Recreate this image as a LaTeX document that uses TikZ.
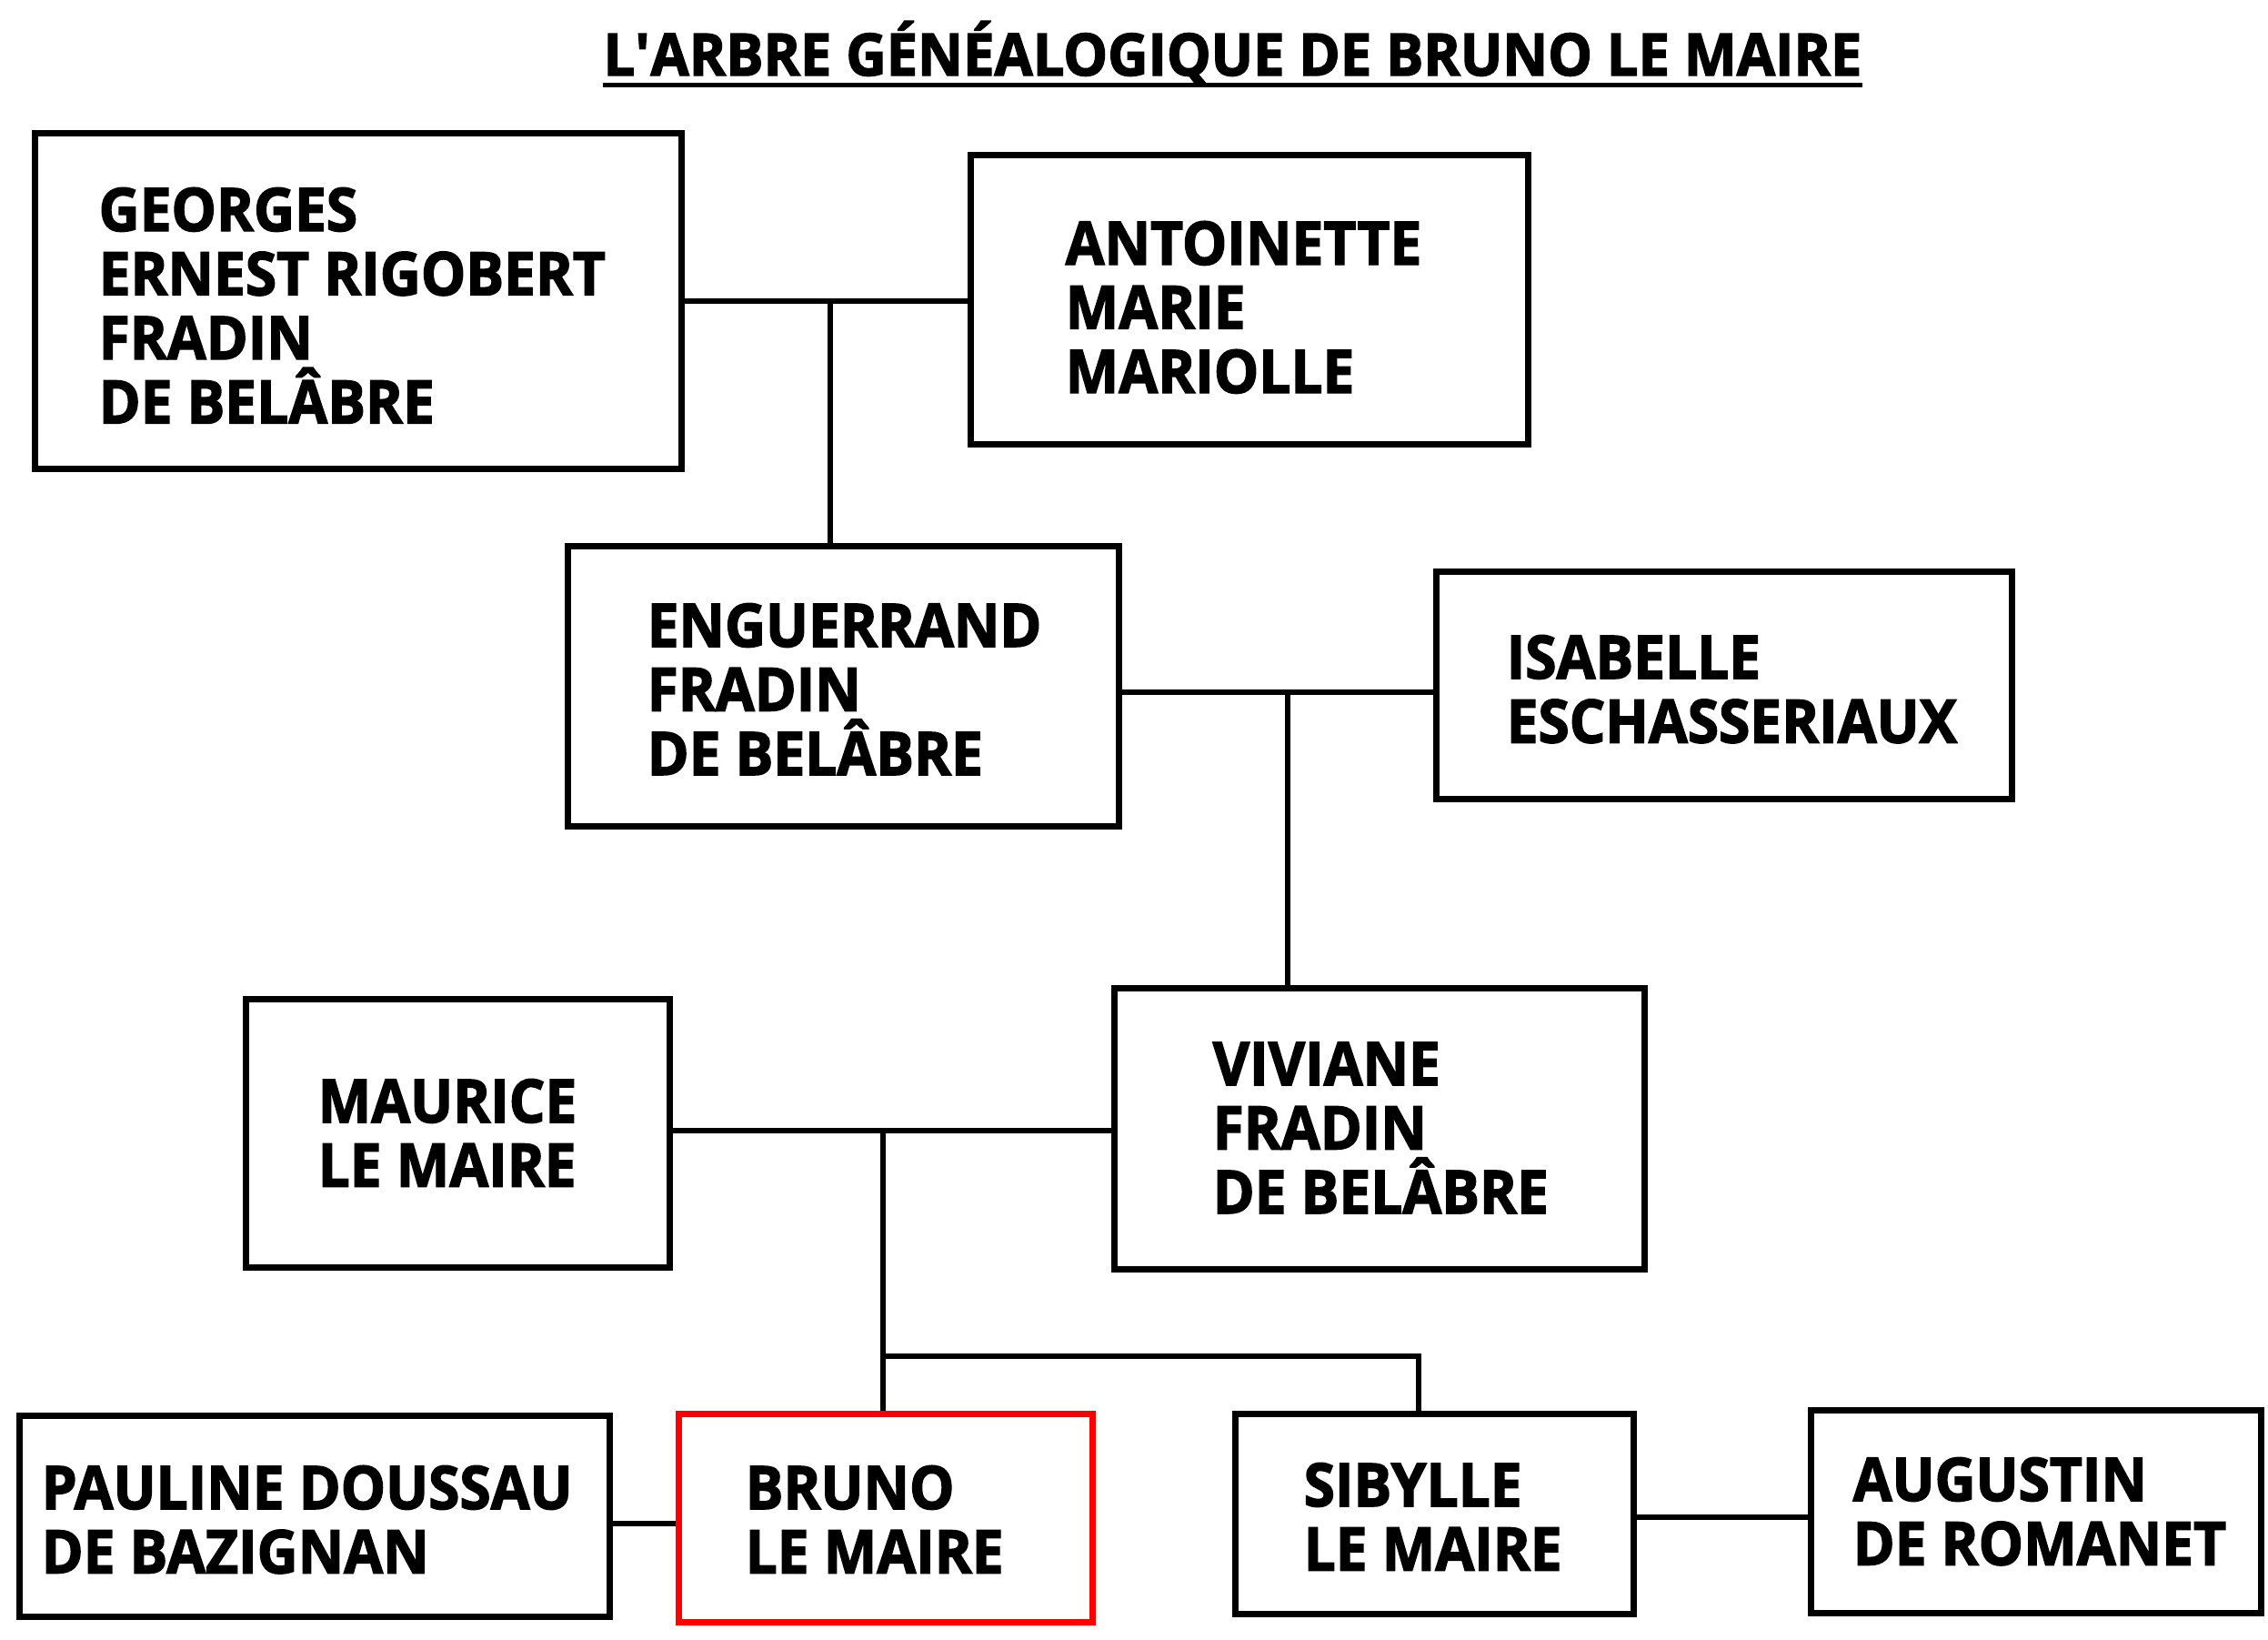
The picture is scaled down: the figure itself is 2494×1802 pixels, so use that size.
\documentclass[tikz,border=0pt]{standalone}
\usepackage{fontspec}
\setmainfont{Open Sans}
\newfontfamily\namefont{Open Sans}[FakeStretch=0.942,BoldFeatures={FakeBold=2.2}]
\newfontfamily\titlefont{Open Sans}[FakeStretch=0.954,BoldFeatures={FakeBold=2.2}]
\usetikzlibrary{fit}
\newcommand{\nmlines}[1]{\vtop{\lineskiplimit=-\maxdimen\lineskip=0pt\halign{##\hfil\cr#1\crcr}}}
\begin{document}
\begin{tikzpicture}[x=0.3pt,y=-0.3pt,
  box/.style={draw=black,line width=2.1pt,rectangle,inner sep=0pt,fill=none},
  redbox/.style={box,draw=red},
  conn/.style={line width=1.9pt},
  txt/.style={anchor=base west,inner sep=0pt,font=\namefont\bfseries\fontsize{19.8pt}{21.15pt}\selectfont},
  ttl/.style={anchor=base west,inner sep=0pt,font=\titlefont\bfseries\fontsize{19.3pt}{22pt}\selectfont}]
\fill[white] (0,0) rectangle (2494,1802);
\useasboundingbox (0,0) rectangle (2494,1802);
% title
\node[ttl] (title) at (663,83) {L\textquotesingle ARBRE GÉNÉALOGIQUE DE BRUNO LE MAIRE};
\draw[line width=1.5pt] ([yshift=-3pt]title.base west) -- ([yshift=-3pt]title.base east);
% boxes
\node[box,fit={(38,146)(749,515)}] (g) {};
\node[box,fit={(1067,170)(1680,488)}] (a) {};
\node[box,fit={(624,600)(1230,908)}] (e) {};
\node[box,fit={(1579,628)(2212,878)}] (i) {};
\node[box,fit={(270,1098)(736,1393)}] (m) {};
\node[box,fit={(1225,1086)(1808,1395)}] (v) {};
\node[box,fit={(21,1556)(670,1777)}] (p) {};
\node[redbox,fit={(746,1554)(1201,1783)}] (b) {};
\node[box,fit={(1358,1554)(1796,1774)}] (s) {};
\node[box,fit={(1991,1550)(2486,1773)}] (au) {};
% texts
\node[txt] (gt) at (108,254) {\nmlines{GEORGES\cr ERNEST RIGOBERT\cr FRADIN\cr DE BELÂBRE}};
\node[txt] (at) at (1171,291) {\nmlines{ANTOINETTE\cr MARIE\cr MARIOLLE}};
\node[txt] (et) at (711,711) {\nmlines{ENGUERRAND\cr FRADIN\cr DE BELÂBRE}};
\node[txt] (it) at (1656,746) {\nmlines{ISABELLE\cr ESCHASSERIAUX}};
\node[txt] (mt) at (349,1234) {\nmlines{MAURICE\cr LE MAIRE}};
\node[txt] (vt) at (1333,1193) {\nmlines{VIVIANE\cr FRADIN\cr DE BELÂBRE}};
\node[txt] (pt) at (45,1659) {\nmlines{PAULINE DOUSSAU\cr DE BAZIGNAN}};
\node[txt] (bt) at (819,1659) {\nmlines{BRUNO\cr LE MAIRE}};
\node[txt] (st) at (1433,1656) {\nmlines{SIBYLLE\cr LE MAIRE}};
\node[txt] (aut) at (2037,1650) {\nmlines{AUGUSTIN\cr DE ROMANET}};
% junctions
\coordinate (j1) at (913,331);
\coordinate (j2) at (1416,761);
\coordinate (j3) at (971,1243);
\coordinate (j4) at (971,1491);
\coordinate (k) at (1560,1491);
\coordinate (j5) at (700,1675);
\coordinate (j6) at (1900,1668);
% connectors
\draw[conn] (g.east |- j1) -- (a.west |- j1);
\draw[conn] (j1) -- (j1 |- e.north);
\draw[conn] (e.east |- j2) -- (i.west |- j2);
\draw[conn] (j2) -- (j2 |- v.north);
\draw[conn] (m.east |- j3) -- (v.west |- j3);
\draw[conn] (j3) -- (j3 |- b.north);
\draw[conn] (j4) -- (k) -- (k |- s.north);
\draw[conn] (p.east |- j5) -- (b.west |- j5);
\draw[conn] (s.east |- j6) -- (au.west |- j6);
\end{tikzpicture}
\end{document}
